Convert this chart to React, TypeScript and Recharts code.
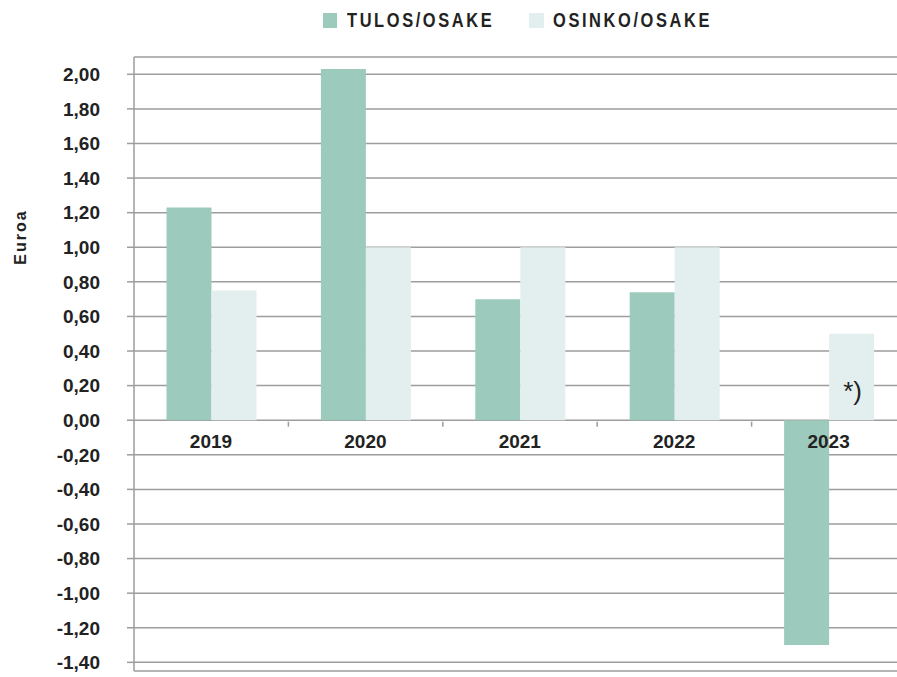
import React from 'react';
import { ComposedChart, Bar, XAxis, YAxis, CartesianGrid, LabelList } from 'recharts';

const years = ['2019', '2020', '2021', '2022', '2023'];
const tulosOsake = [1.23, 2.03, 0.7, 0.74, -1.3];
const osinkoOsake = [0.75, 1.0, 1.0, 1.0, 0.5];
const notes = ['', '', '', '', '*)'];
const yTicks = [-1.4, -1.2, -1.0, -0.8, -0.6, -0.4, -0.2, 0, 0.2, 0.4, 0.6, 0.8, 1.0, 1.2, 1.4, 1.6, 1.8, 2.0];
const seriesNames = ['TULOS/OSAKE', 'OSINKO/OSAKE'];
const seriesColors = ['#9ccbbd', '#e2efee'];
const yLabel = 'Euroa';

const data = years.map((year, i) => ({
  year,
  tulos: tulosOsake[i],
  osinko: osinkoOsake[i],
  note: notes[i],
  zero: 0,
}));

const CAT_GAP = 32.5;
const GRID = '#9d9d9d';
const TEXT = '#222222';
const FONT = "'Liberation Sans', Arial, sans-serif";

const fmt = (v: number) => v.toFixed(2).replace('.', ',');

const YearLabel = (props: any) => {
  const { x, y, width, height, value, index } = props;
  const base = Math.max(y, y + (height || 0));
  const left = x - CAT_GAP;
  return (
    <g>
      {index > 0 && (
        <line x1={left} x2={left} y1={base + 1.5} y2={base + 6.5} stroke={GRID} strokeWidth={1.5} />
      )}
      <text x={x + width / 2} y={base + 28} textAnchor="middle" fill={TEXT} fontSize={19} fontWeight="bold" fontFamily={FONT}>
        {value}
      </text>
    </g>
  );
};

const NoteLabel = (props: any) => {
  const { x, y, width, height, value } = props;
  if (!value) return null;
  return (
    <text x={x + width / 2 + 1} y={y + height - 20} textAnchor="middle" fill={TEXT} fontSize={26} fontFamily={FONT}>
      {value}
    </text>
  );
};

const YTitle = () => (
  <text
    x={26}
    y={237}
    transform="rotate(-90 26 237)"
    textAnchor="middle"
    fill={TEXT}
    fontSize={16}
    fontWeight="bold"
    letterSpacing={2}
    fontFamily={FONT}
  >
    {yLabel}
  </text>
);

const legendSwatchX = [322.7, 529.3];

export default function App() {
  return (
    <div
      style={{
        position: 'absolute',
        left: 0,
        top: 0,
        width: 897,
        height: 677,
        overflow: 'hidden',
        background: '#fff',
        fontFamily: FONT,
      }}
    >
      {seriesNames.map((name, i) => (
        <div key={name}>
          <div
            style={{
              position: 'absolute',
              left: legendSwatchX[i],
              top: 13.3,
              width: 14.5,
              height: 14.5,
              background: seriesColors[i],
            }}
          />
          <span
            style={{
              position: 'absolute',
              left: legendSwatchX[i] + 24,
              top: 9,
              display: 'inline-block',
              whiteSpace: 'nowrap',
              fontFamily: FONT,
              fontWeight: 'bold',
              fontSize: 20,
              letterSpacing: 3.2,
              color: TEXT,
              lineHeight: '23px',
              transform: 'scaleX(0.82)',
              transformOrigin: 'left center',
            }}
          >
            {name}
          </span>
        </div>
      ))}
      <ComposedChart
        width={906}
        height={677}
        data={data}
        margin={{ top: 57, right: 0, bottom: 6, left: 0 }}
        barCategoryGap={CAT_GAP}
        barGap={0}
      >
        <CartesianGrid vertical={false} stroke={GRID} strokeWidth={1.5} />
        <XAxis dataKey="year" hide />
        <XAxis xAxisId="lbl" dataKey="year" hide />
        <YAxis
          type="number"
          domain={[-1.45, 2.1]}
          ticks={yTicks}
          interval={0}
          tickFormatter={fmt}
          width={134}
          tickSize={7}
          tickMargin={27}
          axisLine={{ stroke: GRID, strokeWidth: 1.5 }}
          tickLine={{ stroke: GRID, strokeWidth: 1.5 }}
          tick={{ fill: TEXT, fontSize: 19, fontWeight: 'bold', fontFamily: FONT }}
          label={<YTitle />}
        />
        <Bar dataKey="tulos" name={seriesNames[0]} fill={seriesColors[0]} isAnimationActive={false} />
        <Bar dataKey="osinko" name={seriesNames[1]} fill={seriesColors[1]} isAnimationActive={false}>
          <LabelList dataKey="note" content={NoteLabel} />
        </Bar>
        <Bar xAxisId="lbl" dataKey="zero" fill="none" minPointSize={1} isAnimationActive={false}>
          <LabelList dataKey="year" content={YearLabel} />
        </Bar>
      </ComposedChart>
    </div>
  );
}
